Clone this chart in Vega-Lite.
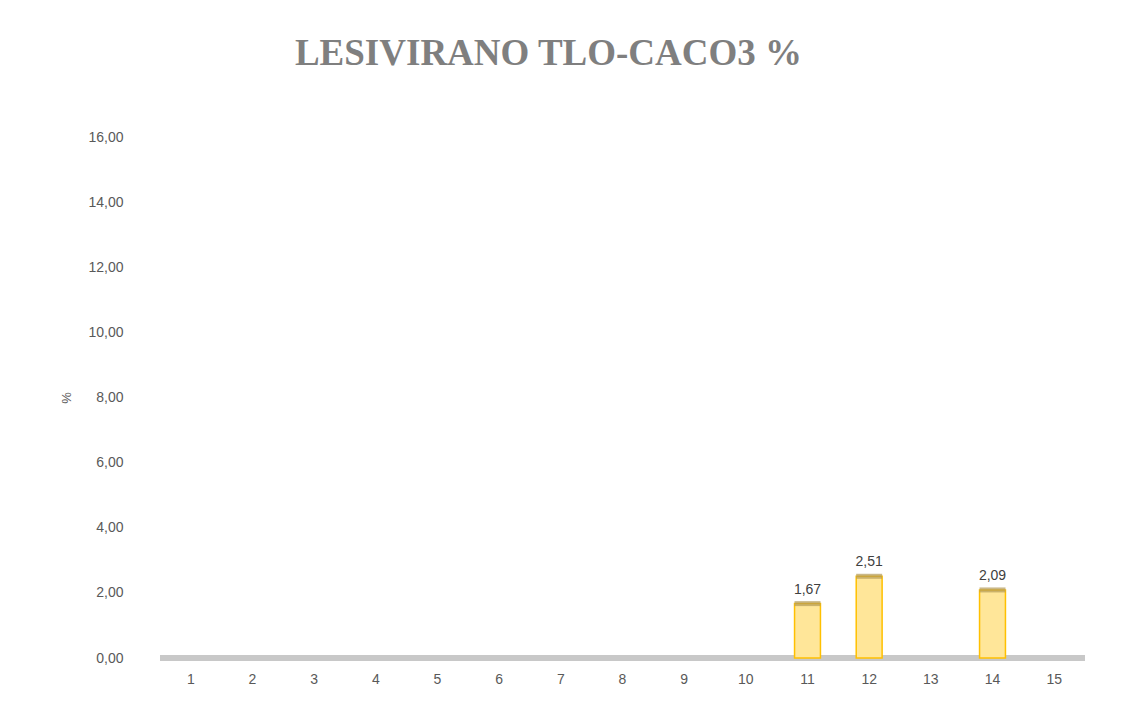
{
  "$schema": "https://vega.github.io/schema/vega-lite/v6.json",
  "autosize": "none",
  "width": 925,
  "height": 521,
  "padding": {"left": 160, "top": 137, "right": 46, "bottom": 52},
  "background": "white",
  "title": {
    "text": "LESIVIRANO TLO-CACO3 %",
    "font": "Liberation Serif",
    "fontSize": 37,
    "fontWeight": "bold",
    "color": "#7f7f7f",
    "anchor": "middle",
    "dx": -74,
    "offset": 57
  },
  "data": {
    "values": [
      {"x": "11", "v": 1.67},
      {"x": "12", "v": 2.51},
      {"x": "14", "v": 2.09}
    ]
  },
  "transform": [
    {"calculate": "replace(format(datum.v, '.2f'), '.', ',')", "as": "lbl"}
  ],
  "encoding": {
    "x": {
      "field": "x",
      "type": "ordinal",
      "scale": {"domain": ["1","2","3","4","5","6","7","8","9","10","11","12","13","14","15"], "paddingInner": 0.58, "paddingOuter": 0.29},
      "axis": {"title": null, "labelAngle": 0, "domain": false, "ticks": false, "labelPadding": 14, "labelFont": "Liberation Sans", "labelFontSize": 14, "labelColor": "#595959"}
    }
  },
  "layer": [
    {
      "mark": {"type": "rule", "color": "#c8c8c8", "strokeWidth": 6},
      "encoding": {"y": {"datum": 0}, "x": null}
    },
    {
      "mark": {"type": "bar", "fill": "#FFE699", "stroke": "#FFC000", "strokeWidth": 1.5},
      "encoding": {
        "y": {
          "field": "v",
          "type": "quantitative",
          "scale": {"domain": [0, 16]},
          "axis": {
            "title": "%",
            "titleFont": "Liberation Sans",
            "titleFontSize": 13,
            "titleFontWeight": "normal",
            "titleColor": "#595959",
            "titlePadding": 14,
            "values": [0, 2, 4, 6, 8, 10, 12, 14, 16],
            "labelExpr": "replace(format(datum.value, '.2f'), '.', ',')",
            "labelFont": "Liberation Sans",
            "labelFontSize": 14,
            "labelColor": "#595959",
            "labelPadding": 37,
            "grid": false,
            "domain": false,
            "ticks": false
          }
        }
      }
    },
    {
      "mark": {"type": "tick", "color": "#b39a55", "thickness": 5, "size": 26},
      "encoding": {"y": {"field": "v", "type": "quantitative"}}
    },
    {
      "mark": {"type": "text", "dy": -14, "font": "Liberation Sans", "fontSize": 14, "color": "#404040"},
      "encoding": {"y": {"field": "v", "type": "quantitative"}, "text": {"field": "lbl"}}
    }
  ],
  "config": {"view": {"stroke": null}}
}
